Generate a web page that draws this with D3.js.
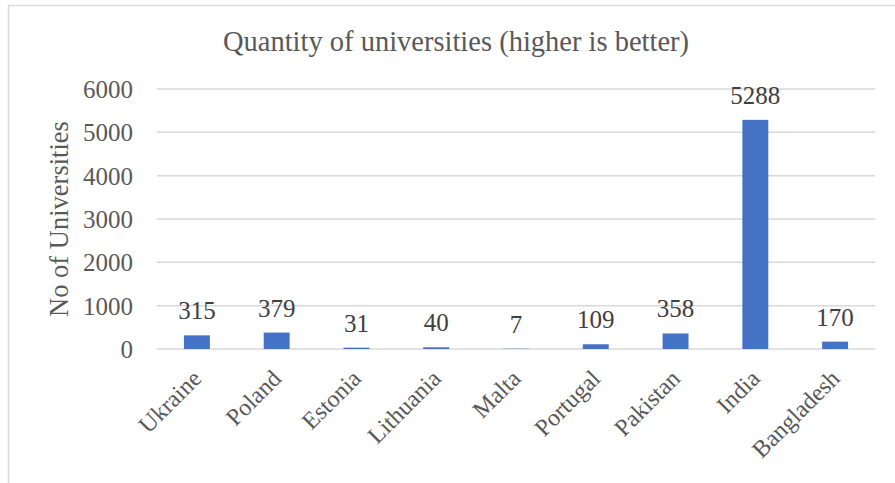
<!DOCTYPE html>
<html><head><meta charset="utf-8">
<script src="https://cdn.jsdelivr.net/npm/d3@7"></script>
<style>body{margin:0;background:#fff;} svg{display:block;}</style>
</head><body>
<script>
const categories = ["Ukraine","Poland","Estonia","Lithuania","Malta","Portugal","Pakistan","India","Bangladesh"];
const values = [315,379,31,40,7,109,358,5288,170];
const yTicks = [0,1000,2000,3000,4000,5000,6000];
const title = "Quantity of universities (higher is better)";
const yTitle = "No of Universities";

(function () {
const W = 895, H = 483;
const font = "'Liberation Serif', 'Times New Roman', serif";
const textColor = "#595959";
const svg = d3.select("body").append("svg").attr("width", W).attr("height", H);

// chart frame
svg.append("rect").attr("x", 8.5).attr("y", 5.5).attr("width", W + 10).attr("height", H + 10)
  .attr("fill", "#fff").attr("stroke", "#d9d9d9").attr("stroke-width", 1.5);

const mLeft = 157, mRight = 875, mTop = 89, mBottom = 349;
const x = d3.scaleBand().domain(categories).range([mLeft, mRight]).paddingInner(0.675).paddingOuter(0.3375);
const y = d3.scaleLinear().domain([0, 6000]).range([mBottom, mTop]);

// gridlines
svg.append("g").selectAll("line").data(yTicks).join("line")
  .attr("x1", mLeft).attr("x2", mRight)
  .attr("y1", d => y(d)).attr("y2", d => y(d))
  .attr("stroke", "#d9d9d9").attr("stroke-width", 1.5);

// y axis labels
const yAxis = d3.axisLeft(y).tickValues(yTicks).tickSize(0).tickPadding(0).tickFormat(d3.format("d"));
const gy = svg.append("g").attr("transform", `translate(${mLeft - 24},0)`).call(yAxis);
gy.select(".domain").remove();
gy.selectAll("text").attr("font-family", font).attr("font-size", 25).attr("fill", textColor).attr("dy", "0.34em");

// x axis labels
const xAxis = d3.axisBottom(x).tickSize(0).tickPadding(0);
const gx = svg.append("g").attr("transform", `translate(0,${mBottom})`).call(xAxis);
gx.select(".domain").remove();
gx.selectAll("text")
  .attr("font-family", font).attr("font-size", 24).attr("fill", textColor)
  .attr("text-anchor", "end").attr("dy", "0.35em")
  .attr("transform", "translate(0,25) rotate(-45)")
  .attr("y", 0).attr("x", 0);

// bars
svg.append("g").selectAll("rect").data(categories).join("rect")
  .attr("x", d => x(d)).attr("width", x.bandwidth())
  .attr("y", (d, i) => y(values[i])).attr("height", (d, i) => mBottom - y(values[i]))
  .attr("fill", "#4472C4");

// data labels
svg.append("g").selectAll("text").data(categories).join("text")
  .attr("x", d => x(d) + x.bandwidth() / 2)
  .attr("y", (d, i) => y(values[i]) - 16)
  .attr("text-anchor", "middle")
  .attr("font-family", font).attr("font-size", 25).attr("fill", "#404040")
  .text((d, i) => values[i]);

// title
svg.append("text").attr("x", 456).attr("y", 51).attr("text-anchor", "middle")
  .attr("font-family", font).attr("font-size", 28.5).attr("fill", textColor).text(title);

// y title
svg.append("text").attr("transform", `translate(68,${219}) rotate(-90)`)
  .attr("text-anchor", "middle").attr("font-family", font).attr("font-size", 26.5)
  .attr("fill", textColor).text(yTitle);
})();
</script>
</body></html>
